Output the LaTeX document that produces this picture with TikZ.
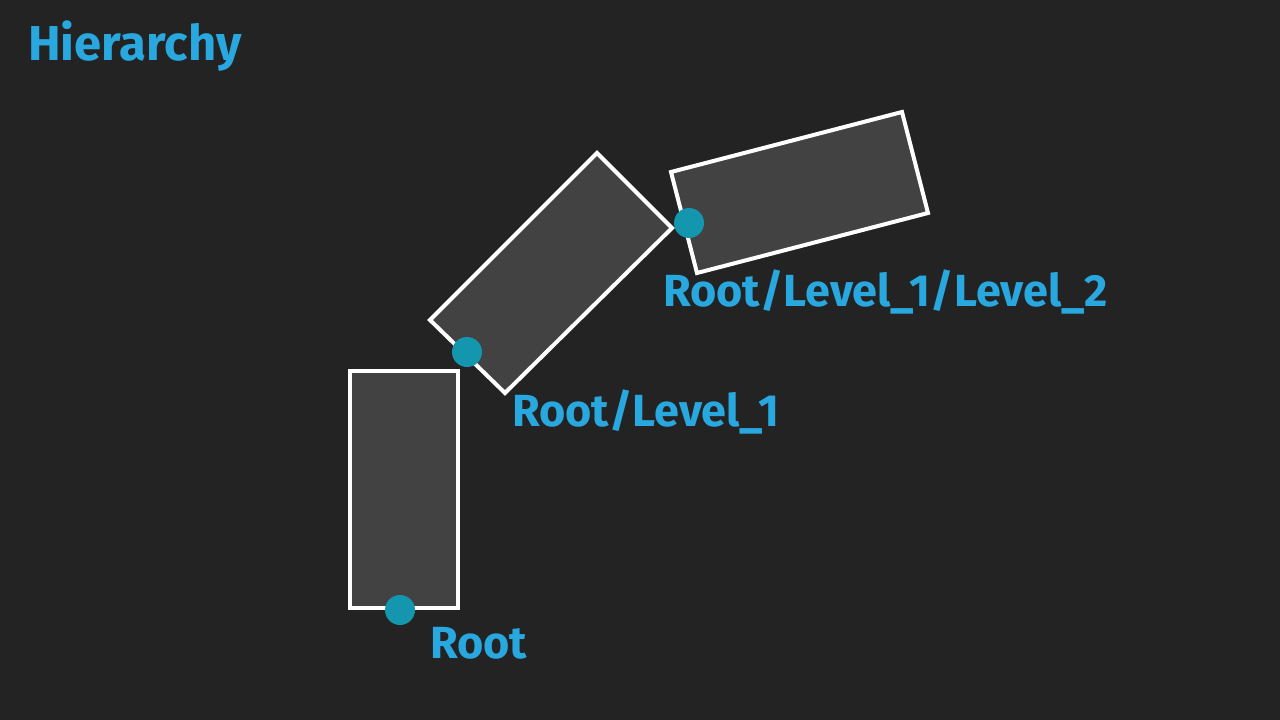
\documentclass[tikz,border=0pt]{standalone}
\usepackage{fontspec}
\setmainfont{Fira Sans}
\definecolor{bg}{HTML}{232323}
\definecolor{boxfill}{HTML}{424242}
\definecolor{dotc}{HTML}{1497AE}
\definecolor{txt}{HTML}{29A8E0}
\begin{document}
\begin{tikzpicture}[x=1pt,y=-1pt,
  part/.style={draw=white,line width=4pt,fill=boxfill,line join=miter},
  joint/.style={circle,fill=dotc,minimum size=30pt,inner sep=0pt},
  lbl/.style={text=txt,font=\fontsize{45}{50}\selectfont\bfseries,anchor=west,inner sep=0pt}]
\fill[bg] (0,0) rectangle (1280,720);
\useasboundingbox (0,0) rectangle (1280,720);
\draw[part] (350,371) -- (458,371) -- (458,608) -- (350,608) -- cycle;
\draw[part] (597,153) -- (672,228) -- (505,393) -- (430,320) -- cycle;
\draw[part] (671,172) -- (902,112) -- (928,213) -- (697,273) -- cycle;
\node[joint] (j0) at (400,610) {};
\node[joint] (j1) at (467,352) {};
\node[joint] (j2) at (689,223) {};
\node[lbl,font=\fontsize{49}{54}\selectfont\bfseries] (t) at (28,46) {Hierarchy};
\node[lbl] (l0) at (430,643) {Root};
\node[lbl] (l1) at (512,412) {Root/Level\_1};
\node[lbl] (l2) at (663,292) {Root/Level\_1/Level\_2};
\end{tikzpicture}
\end{document}
